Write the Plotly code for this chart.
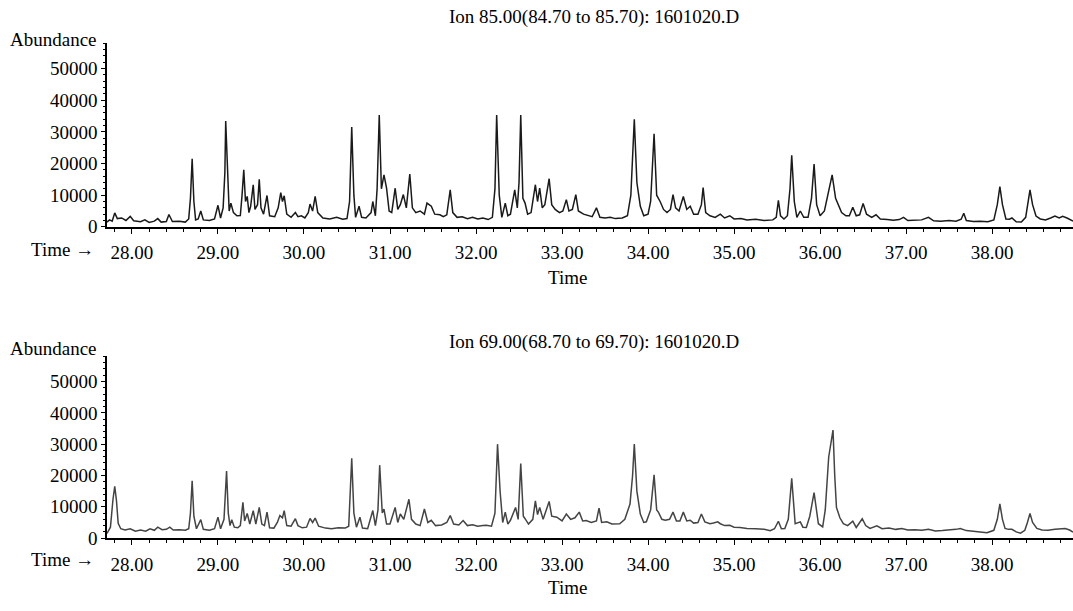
import plotly.graph_objects as go

# Ion 85.00 trace (time, abundance) vertices
t85 = [27.71, 27.74, 27.77, 27.80, 27.83, 27.88, 27.93, 27.98, 28.02, 28.10, 28.15, 28.20, 28.26, 28.30, 28.34, 28.40, 28.43, 28.47, 28.55, 28.62, 28.66, 28.68, 28.70, 28.72, 28.74, 28.77, 28.80, 28.83, 28.90, 28.96, 29.00, 29.03, 29.06, 29.08, 29.09, 29.11, 29.13, 29.15, 29.18, 29.22, 29.26, 29.28, 29.30, 29.32, 29.34, 29.36, 29.38, 29.41, 29.43, 29.46, 29.48, 29.50, 29.53, 29.57, 29.60, 29.66, 29.70, 29.73, 29.75, 29.77, 29.80, 29.85, 29.90, 29.93, 29.97, 30.01, 30.05, 30.07, 30.10, 30.13, 30.16, 30.22, 30.30, 30.38, 30.45, 30.50, 30.53, 30.555, 30.58, 30.60, 30.64, 30.67, 30.72, 30.78, 30.80, 30.83, 30.85, 30.875, 30.90, 30.93, 30.96, 30.99, 31.02, 31.06, 31.09, 31.12, 31.155, 31.19, 31.23, 31.26, 31.30, 31.35, 31.40, 31.43, 31.48, 31.52, 31.58, 31.62, 31.66, 31.70, 31.73, 31.78, 31.84, 31.90, 31.96, 32.02, 32.08, 32.14, 32.19, 32.22, 32.24, 32.27, 32.30, 32.34, 32.37, 32.40, 32.45, 32.48, 32.50, 32.52, 32.545, 32.57, 32.60, 32.64, 32.69, 32.715, 32.74, 32.77, 32.80, 32.85, 32.88, 32.92, 32.97, 33.01, 33.05, 33.08, 33.12, 33.16, 33.19, 33.25, 33.30, 33.35, 33.40, 33.44, 33.50, 33.56, 33.62, 33.70, 33.76, 33.80, 33.84, 33.87, 33.91, 33.95, 34.00, 34.03, 34.07, 34.10, 34.14, 34.18, 34.22, 34.26, 34.29, 34.32, 34.36, 34.41, 34.45, 34.49, 34.53, 34.58, 34.62, 34.64, 34.67, 34.72, 34.78, 34.84, 34.89, 34.95, 35.00, 35.08, 35.15, 35.25, 35.35, 35.45, 35.49, 35.515, 35.54, 35.58, 35.62, 35.65, 35.67, 35.70, 35.73, 35.77, 35.81, 35.86, 35.90, 35.93, 35.96, 36.00, 36.05, 36.10, 36.14, 36.18, 36.21, 36.25, 36.30, 36.34, 36.38, 36.42, 36.46, 36.50, 36.54, 36.60, 36.65, 36.70, 36.78, 36.85, 36.92, 36.97, 37.02, 37.10, 37.18, 37.26, 37.32, 37.40, 37.50, 37.58, 37.64, 37.67, 37.70, 37.78, 37.86, 37.95, 38.02, 38.06, 38.09, 38.12, 38.16, 38.20, 38.23, 38.28, 38.34, 38.39, 38.42, 38.44, 38.47, 38.51, 38.56, 38.62, 38.68, 38.73, 38.78, 38.82, 38.87, 38.94]
a85 = [1500, 2200, 1800, 4400, 2600, 2800, 2000, 3300, 1900, 1600, 2200, 1400, 1800, 2600, 1500, 1700, 3900, 1700, 1800, 1500, 2500, 9000, 21500, 8000, 2200, 2500, 5000, 2200, 2000, 2500, 6800, 2800, 6000, 17000, 33400, 16000, 5000, 7500, 4500, 3500, 3600, 10000, 18000, 8000, 9600, 4500, 6500, 13300, 5500, 7000, 15000, 6000, 4000, 9900, 3500, 3200, 6000, 10800, 8000, 9800, 4000, 3000, 4500, 3200, 3500, 2800, 4500, 7200, 5000, 9600, 4500, 2800, 2500, 3000, 2400, 2600, 8000, 31500, 10000, 3000, 6500, 3000, 2800, 4500, 8000, 3500, 12000, 35300, 12000, 16400, 12200, 5000, 4500, 12200, 5500, 7000, 10200, 6000, 16700, 6000, 4500, 5000, 4000, 7500, 6500, 4000, 3800, 3200, 3800, 11700, 4500, 3000, 3200, 2600, 3000, 2500, 2800, 2300, 3000, 12000, 35300, 10000, 3000, 7500, 3500, 4000, 11700, 6000, 14000, 35300, 9000, 7500, 4000, 4500, 13300, 8000, 12200, 6000, 7000, 15200, 7000, 5500, 4500, 5000, 8600, 5000, 5500, 10200, 5000, 4000, 3600, 3200, 6000, 3000, 2800, 3000, 2600, 2800, 3500, 10000, 34000, 14000, 6500, 3500, 4000, 8000, 29400, 10000, 8000, 5500, 4500, 5500, 10200, 6000, 5000, 9600, 5500, 6500, 4000, 4000, 7000, 12400, 4500, 3500, 3000, 4000, 2800, 3500, 2500, 2600, 2200, 2400, 2000, 2200, 3000, 8400, 3500, 2500, 3500, 12000, 22600, 8000, 3000, 5000, 3000, 3000, 9000, 19800, 7000, 3500, 5000, 12000, 16400, 9000, 7100, 4500, 3500, 3500, 6200, 3500, 3800, 7400, 4000, 3000, 3800, 2500, 2300, 2100, 2300, 3000, 2000, 2000, 2200, 3000, 1900, 1800, 2000, 1800, 2400, 4300, 2000, 1700, 1800, 1600, 2200, 7000, 12700, 7000, 2500, 2400, 2800, 1600, 1500, 3000, 9000, 11700, 7000, 3400, 2500, 2200, 2800, 3400, 2800, 3300, 2800, 1800]

# Ion 69.00 trace
t69 = [27.71, 27.75, 27.78, 27.80, 27.82, 27.84, 27.87, 27.92, 27.98, 28.04, 28.10, 28.16, 28.21, 28.26, 28.30, 28.35, 28.40, 28.44, 28.48, 28.55, 28.62, 28.66, 28.68, 28.70, 28.72, 28.75, 28.80, 28.83, 28.90, 28.96, 29.00, 29.03, 29.07, 29.10, 29.12, 29.14, 29.16, 29.19, 29.23, 29.26, 29.29, 29.31, 29.34, 29.37, 29.41, 29.44, 29.48, 29.51, 29.54, 29.57, 29.60, 29.65, 29.69, 29.72, 29.75, 29.77, 29.80, 29.85, 29.90, 29.93, 29.98, 30.03, 30.07, 30.10, 30.13, 30.17, 30.25, 30.32, 30.40, 30.48, 30.52, 30.555, 30.58, 30.61, 30.65, 30.68, 30.74, 30.80, 30.83, 30.86, 30.88, 30.91, 30.93, 30.96, 31.00, 31.06, 31.09, 31.12, 31.16, 31.22, 31.25, 31.30, 31.35, 31.40, 31.44, 31.48, 31.53, 31.60, 31.66, 31.70, 31.74, 31.80, 31.85, 31.90, 31.96, 32.02, 32.08, 32.12, 32.18, 32.22, 32.25, 32.28, 32.31, 32.34, 32.37, 32.40, 32.46, 32.49, 32.52, 32.55, 32.57, 32.61, 32.66, 32.69, 32.715, 32.74, 32.78, 32.85, 32.88, 32.94, 33.00, 33.05, 33.10, 33.15, 33.20, 33.24, 33.28, 33.34, 33.40, 33.43, 33.46, 33.52, 33.58, 33.67, 33.73, 33.79, 33.82, 33.84, 33.87, 33.91, 33.95, 33.98, 34.03, 34.07, 34.10, 34.12, 34.16, 34.20, 34.25, 34.29, 34.33, 34.37, 34.41, 34.45, 34.49, 34.53, 34.58, 34.62, 34.66, 34.72, 34.76, 34.81, 34.84, 34.89, 34.95, 35.00, 35.07, 35.15, 35.25, 35.35, 35.42, 35.47, 35.515, 35.55, 35.59, 35.63, 35.67, 35.70, 35.71, 35.77, 35.80, 35.84, 35.88, 35.93, 35.96, 35.98, 36.03, 36.06, 36.10, 36.15, 36.17, 36.19, 36.23, 36.27, 36.32, 36.38, 36.42, 36.49, 36.53, 36.58, 36.66, 36.72, 36.80, 36.88, 36.95, 37.02, 37.10, 37.18, 37.26, 37.34, 37.42, 37.50, 37.58, 37.63, 37.70, 37.78, 37.86, 37.94, 38.02, 38.06, 38.09, 38.12, 38.15, 38.19, 38.23, 38.28, 38.33, 38.38, 38.41, 38.44, 38.47, 38.52, 38.58, 38.65, 38.73, 38.80, 38.85, 38.90, 38.94]
a69 = [1500, 3500, 12500, 16500, 12000, 4700, 3000, 2600, 3000, 2200, 2600, 2200, 3000, 2500, 3500, 2700, 2800, 3500, 2600, 2700, 2500, 3000, 8000, 18300, 7000, 3000, 5900, 2800, 2500, 3000, 6700, 3000, 6000, 21400, 8000, 4000, 5900, 3500, 3300, 4000, 11400, 5500, 7900, 4500, 8800, 4500, 9800, 4500, 4000, 8300, 3300, 3200, 5000, 7200, 6500, 8800, 4000, 3800, 6200, 4000, 3300, 3500, 6300, 5000, 6400, 3800, 3200, 3000, 3300, 3200, 3800, 25500, 8000, 3500, 6700, 3200, 3000, 8800, 4000, 9000, 23300, 8000, 9300, 4500, 4500, 9800, 5000, 7700, 6000, 12400, 6000, 4500, 4000, 9300, 5000, 5700, 4000, 4200, 5000, 7200, 4500, 4200, 5600, 4000, 4300, 3800, 4000, 4100, 3800, 8000, 30000, 14900, 5000, 8300, 4500, 5700, 9800, 6000, 23800, 7000, 6200, 4500, 6000, 11900, 7500, 9800, 6000, 11700, 7000, 6700, 5500, 7700, 6000, 6500, 8300, 5500, 5600, 5000, 5500, 9600, 5000, 5200, 4500, 4600, 6000, 10900, 20000, 30000, 15000, 7700, 5000, 5200, 9000, 20200, 9000, 8300, 6000, 5700, 6000, 8300, 5500, 5500, 8300, 5500, 5700, 4800, 5000, 7700, 5200, 4600, 4800, 5200, 4600, 4000, 4100, 3500, 3400, 3100, 3000, 2800, 2400, 3000, 5400, 3000, 3100, 6000, 19100, 7000, 4600, 5200, 3500, 3400, 7000, 14500, 8000, 4600, 3600, 9000, 25900, 34500, 20000, 9800, 6500, 4600, 4000, 5400, 3400, 6200, 4000, 3100, 3900, 3000, 3200, 2800, 3100, 2600, 2700, 2500, 2800, 2300, 2400, 2500, 2800, 3100, 2400, 2200, 2000, 1700, 2500, 6000, 10900, 6000, 3100, 2800, 2800, 2000, 1600, 2500, 5000, 7900, 5000, 3100, 2600, 2500, 2800, 2900, 3100, 2600, 1900]

titles = ["Ion 85.00(84.70 to 85.70): 1601020.D", "Ion 69.00(68.70 to 69.70): 1601020.D"]
x_range = [27.71, 38.94]
y_range = [0, 58000]
y_ticks = [0, 10000, 20000, 30000, 40000, 50000]
x_ticks = [28, 29, 30, 31, 32, 33, 34, 35, 36, 37, 38]

W, H = 1073, 611
FONT = "Liberation Serif, Times New Roman, serif"

def py(px):
    return 1 - px / H

def pxx(px):
    return px / W

fig = go.Figure()
fig.add_trace(go.Scatter(x=t85, y=a85, mode="lines", line=dict(color="#1a1a1a", width=1.5),
                         xaxis="x", yaxis="y", showlegend=False, hoverinfo="skip"))
fig.add_trace(go.Scatter(x=t69, y=a69, mode="lines", line=dict(color="#444444", width=1.5),
                         xaxis="x2", yaxis="y2", showlegend=False, hoverinfo="skip"))

xdom = [pxx(107), 1.0]
top_dom = [py(231), py(44)]
bot_dom = [py(548), py(363)]

def xax(anchor):
    return dict(domain=xdom, range=x_range, anchor=anchor, showline=True, linecolor="black",
                linewidth=1.6, ticks="outside", ticklen=5, tickwidth=1.3, tickcolor="black",
                tickvals=x_ticks, ticktext=[f"{v:.2f}" for v in x_ticks],
                ticklabelstandoff=3,
                minor=dict(dtick=0.2, tick0=28, ticks="outside", ticklen=3, tickcolor="black"),
                showgrid=False, zeroline=False,
                tickfont=dict(family=FONT, size=19, color="black"))

def yax(anchor, dom):
    return dict(domain=dom, range=y_range, anchor=anchor, showline=True, linecolor="black",
                linewidth=1.6, ticks="outside", ticklen=4, tickwidth=1.3, tickcolor="black",
                tickvals=y_ticks, ticktext=[str(v) for v in y_ticks],
                minor=dict(dtick=2000, ticks="outside", ticklen=2, tickcolor="black"),
                showgrid=False, zeroline=False,
                tickfont=dict(family=FONT, size=19, color="black"))

fig.update_layout(
    width=W, height=H, margin=dict(l=0, r=0, t=0, b=0),
    paper_bgcolor="white", plot_bgcolor="white",
    xaxis=xax("y"), yaxis=yax("x", top_dom),
    xaxis2=xax("y2"), yaxis2=yax("x2", bot_dom),
)

ann = []
font = dict(family=FONT, size=19, color="black")
for title_y, abund_y, time_arrow_y, time_y, title in [
        (17, 40, 254, 283, titles[0]), (348, 355, 570, 598, titles[1])]:
    ann.append(dict(text=title, x=pxx(594), y=py(title_y), xref="paper", yref="paper",
                    xanchor="center", yanchor="middle", showarrow=False, font=font))
    ann.append(dict(text="Abundance", x=pxx(99), y=py(abund_y), xref="paper", yref="paper",
                    xanchor="right", yanchor="middle", showarrow=False, font=font))
    ann.append(dict(text="Time →", x=pxx(96), y=py(time_arrow_y), xref="paper", yref="paper",
                    xanchor="right", yanchor="middle", showarrow=False, font=font))
    ann.append(dict(text="Time", x=pxx(567), y=py(time_y), xref="paper", yref="paper",
                    xanchor="center", yanchor="middle", showarrow=False, font=font))
fig.update_layout(annotations=ann)

fig.write_html("out.html")
